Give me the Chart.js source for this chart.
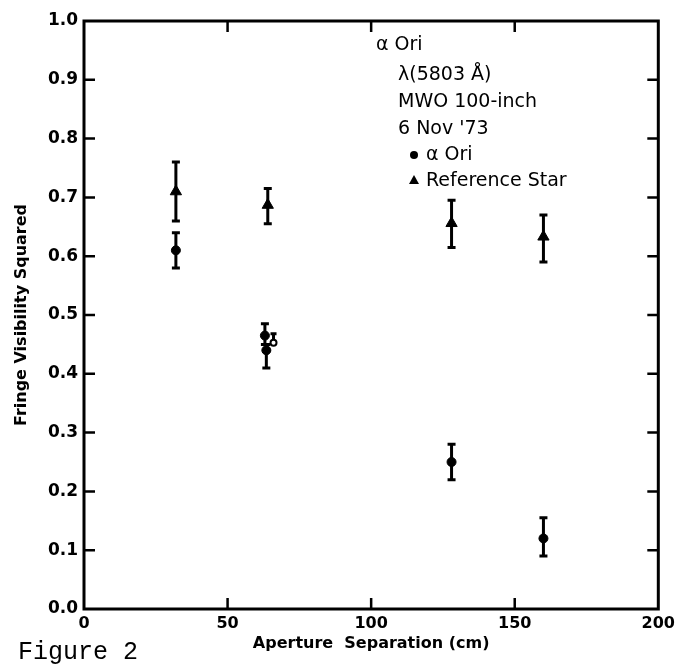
<!DOCTYPE html>
<html>
<head>
<meta charset="utf-8">
<script src="https://cdn.jsdelivr.net/npm/chart.js@4.4.1/dist/chart.umd.min.js"></script>
<style>
html, body { margin: 0; padding: 0; background: #fff; }
#wrap { width: 680px; height: 669px; }
</style>
</head>
<body>
<div id="wrap"><canvas id="chart" width="680" height="669"></canvas></div>
<script>
// alpha Ori (filled circles)
var oriX = [32, 63, 63.5, 128, 160];
var oriY = [0.61, 0.465, 0.44, 0.25, 0.12];
var oriLow = [0.58, 0.45, 0.41, 0.22, 0.09];
var oriHigh = [0.64, 0.485, 0.45, 0.28, 0.155];

// small open mark next to the 63 cm points
var openX = [66];
var openY = [0.453];
var openLow = [0.453];
var openHigh = [0.468];

// reference star (triangles)
var refX = [32, 64, 128, 160];
var refY = [0.71, 0.687, 0.656, 0.633];
var refLow = [0.66, 0.655, 0.615, 0.59];
var refHigh = [0.76, 0.715, 0.695, 0.67];

var xTicks = [0, 50, 100, 150, 200];
var yTicks = [0, 0.1, 0.2, 0.3, 0.4, 0.5, 0.6, 0.7, 0.8, 0.9, 1.0];

var infoLines = ['\u03b1 Ori', '\u03bb(5803 \u00c5)', 'MWO 100-inch', "6 Nov '73"];
var keyLines = ['\u03b1 Ori', 'Reference Star'];

function pts(xs, ys) {
    return xs.map(function (x, i) { return { x: x, y: ys[i] }; });
}

// error bars, drawn under the markers
var errorBars = {
    id: 'errorBars',
    beforeDatasetsDraw: function (chart) {
        var c = chart.ctx, xs = chart.scales.x, ys = chart.scales.y;
        var sets = [[oriX, oriLow, oriHigh, 8], [refX, refLow, refHigh, 8], [openX, openLow, openHigh, 6]];
        c.save();
        c.strokeStyle = '#000';
        c.lineWidth = 3;
        sets.forEach(function (s) {
            s[0].forEach(function (x, i) {
                var px = xs.getPixelForValue(x);
                var lo = ys.getPixelForValue(s[1][i]);
                var hi = ys.getPixelForValue(s[2][i]);
                var w = s[3] / 2;
                c.beginPath();
                c.moveTo(px, lo); c.lineTo(px, hi);
                c.moveTo(px - w, hi); c.lineTo(px + w, hi);
                if (s[1][i] !== s[2][i] && s[0] !== openX) {
                    c.moveTo(px - w, lo); c.lineTo(px + w, lo);
                }
                c.stroke();
            });
        });
        c.restore();
    }
};

// box, inward ticks, annotation block and figure caption
var decorations = {
    id: 'decorations',
    afterDraw: function (chart) {
        var c = chart.ctx, a = chart.chartArea, xs = chart.scales.x, ys = chart.scales.y;
        c.save();
        c.strokeStyle = '#000';
        c.lineWidth = 3;
        c.strokeRect(a.left, a.top, a.right - a.left, a.bottom - a.top);

        c.lineWidth = 2.5;
        c.beginPath();
        yTicks.slice(1, -1).forEach(function (v) {
            var py = ys.getPixelForValue(v);
            c.moveTo(a.left, py); c.lineTo(a.left + 11, py);
            c.moveTo(a.right, py); c.lineTo(a.right - 11, py);
        });
        xTicks.slice(1, -1).forEach(function (v) {
            var px = xs.getPixelForValue(v);
            c.moveTo(px, a.bottom); c.lineTo(px, a.bottom - 11);
            c.moveTo(px, a.top); c.lineTo(px, a.top + 11);
        });
        c.stroke();

        c.fillStyle = '#000';
        c.textBaseline = 'middle';
        c.textAlign = 'left';
        c.font = '19px "DejaVu Sans"';
        c.fillText(infoLines[0], 376, 45);
        c.fillText(infoLines[1], 398, 75);
        c.fillText(infoLines[2], 398, 102);
        c.fillText(infoLines[3], 398, 129);
        c.fillText(keyLines[0], 426, 155);
        c.fillText(keyLines[1], 426, 181);

        c.beginPath();
        c.arc(414, 155, 4, 0, Math.PI * 2);
        c.fill();
        c.beginPath();
        c.moveTo(414, 175); c.lineTo(419, 184); c.lineTo(409, 184);
        c.closePath();
        c.fill();

        c.font = '25px "Liberation Mono"';
        c.fillText('Figure 2', 18, 652);
        c.restore();
    }
};

var tickFont = { family: 'DejaVu Sans', weight: 'bold', size: 16 };

new Chart(document.getElementById('chart'), {
    type: 'scatter',
    data: {
        datasets: [
            {
                label: '\u03b1 Ori',
                data: pts(oriX, oriY),
                pointStyle: 'circle',
                pointRadius: 4.5,
                backgroundColor: '#000',
                borderColor: '#000',
                borderWidth: 1
            },
            {
                label: 'open mark',
                data: pts(openX, openY),
                pointStyle: 'circle',
                pointRadius: 3,
                backgroundColor: '#fff',
                borderColor: '#000',
                borderWidth: 2
            },
            {
                label: 'Reference Star',
                data: pts(refX, refY),
                pointStyle: 'triangle',
                pointRadius: 6.5,
                backgroundColor: '#000',
                borderColor: '#000',
                borderWidth: 1
            }
        ]
    },
    options: {
        responsive: false,
        animation: false,
        layout: { padding: { top: 21, right: 19, left: 0, bottom: 0 } },
        plugins: {
            legend: { display: false },
            tooltip: { enabled: false }
        },
        scales: {
            x: {
                type: 'linear',
                min: 0,
                max: 200,
                afterBuildTicks: function (s) { s.ticks = xTicks.map(function (v) { return { value: v }; }); },
                afterFit: function (s) { s.height = 60; },
                grid: { display: false, drawTicks: false },
                border: { display: false },
                ticks: { color: '#000', font: tickFont, padding: 5, maxRotation: 0 },
                title: {
                    display: true,
                    text: 'Aperture  Separation (cm)',
                    color: '#000',
                    font: { family: 'DejaVu Sans', weight: 'bold', size: 16 },
                    padding: { top: 0, bottom: 16 }
                }
            },
            y: {
                type: 'linear',
                min: 0,
                max: 1,
                afterBuildTicks: function (s) { s.ticks = yTicks.map(function (v) { return { value: v }; }); },
                afterFit: function (s) { s.width = 84; },
                grid: { display: false, drawTicks: false },
                border: { display: false },
                ticks: {
                    color: '#000',
                    font: { family: 'DejaVu Sans', weight: 'bold', size: 17 },
                    padding: 6,
                    callback: function (v) { return v.toFixed(1); }
                },
                title: {
                    display: true,
                    text: 'Fringe Visibility Squared',
                    color: '#000',
                    font: { family: 'DejaVu Sans', weight: 'bold', size: 16 },
                    padding: { top: 12, bottom: 0 }
                }
            }
        }
    },
    plugins: [errorBars, decorations]
});
</script>
</body>
</html>
